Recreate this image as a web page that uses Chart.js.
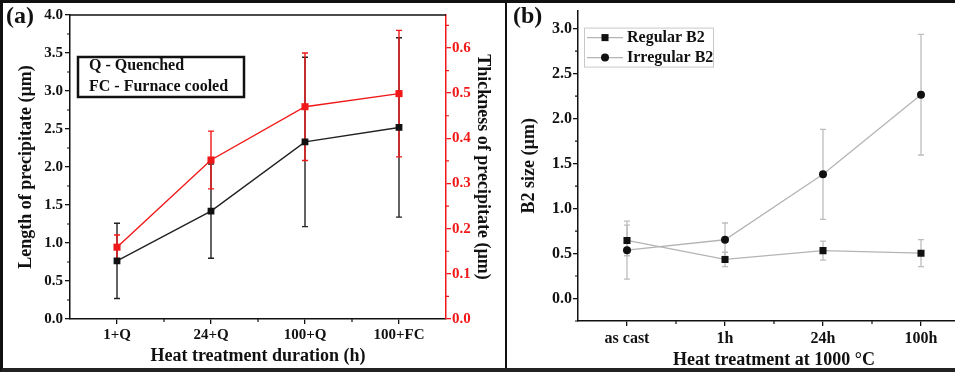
<!DOCTYPE html>
<html>
<head>
<meta charset="utf-8">
<script src="https://cdn.jsdelivr.net/npm/chart.js@4.4.1/dist/chart.umd.min.js"></script>
<style>
  html, body { margin: 0; padding: 0; background: #fff; overflow: hidden; }
  #wrap { position: relative; width: 955px; height: 372px; overflow: hidden; }
  .panel { position: absolute; top: 0; }
  #sep { position: absolute; left: 505px; top: 0; width: 2px; height: 372px; background: #111; }
  #frame { position: absolute; left: 0; top: 0; width: 955px; height: 372px; box-sizing: border-box;
           border-left: 3px solid #111; border-top: 3px solid #111; border-bottom: 4px solid #222; pointer-events: none; }
</style>
</head>
<body>
<div id="wrap">
  <canvas id="chartA" class="panel" width="506" height="372" style="left:0"></canvas>
  <canvas id="chartB" class="panel" width="470" height="372" style="left:506px"></canvas>
  <div id="sep"></div>
  <div id="frame"></div>
</div>
<script>
// panel (a)
const durations = ['1+Q', '24+Q', '100+Q', '100+FC'];
const lengthVals = [0.765, 1.42, 2.33, 2.52];
const lengthErr = [0.495, 0.62, 1.115, 1.18];
const thickVals = [0.159, 0.352, 0.470, 0.499];
const thickErr = [0.027, 0.064, 0.119, 0.14];

// panel (b)
const stages = ['as cast', '1h', '24h', '100h'];
const regularB2 = [0.645, 0.434, 0.532, 0.504];
const regularErr = [0.17, 0.08, 0.105, 0.15];
const irregularB2 = [0.537, 0.653, 1.38, 2.265];
const irregularErr = [0.322, 0.186, 0.5, 0.67];

const SERIF = "'Liberation Serif', 'Times New Roman', serif";
const RED = '#f01818';
const INK = '#111';

// error bars from the dataset's own scale
const errorBars = {
  id: 'errorBars',
  beforeDatasetsDraw(chart) {
    const ctx = chart.ctx;
    chart.data.datasets.forEach((ds, i) => {
      if (!ds.errors) return;
      const meta = chart.getDatasetMeta(i);
      const scale = chart.scales[meta.yAxisID];
      ctx.save();
      ctx.strokeStyle = ds.errorColor;
      ctx.lineWidth = ds.errorWidth;
      ctx.beginPath();
      meta.data.forEach((pt, j) => {
        const yTop = scale.getPixelForValue(ds.data[j] + ds.errors[j]);
        const yBot = scale.getPixelForValue(ds.data[j] - ds.errors[j]);
        ctx.moveTo(pt.x, yTop); ctx.lineTo(pt.x, yBot);
        ctx.moveTo(pt.x - 3, yTop); ctx.lineTo(pt.x + 3, yTop);
        ctx.moveTo(pt.x - 3, yBot); ctx.lineTo(pt.x + 3, yBot);
      });
      ctx.stroke();
      ctx.restore();
    });
  }
};

// small ticks half way between the major ones
const minorTicks = {
  id: 'minorTicks',
  afterDraw(chart) {
    const ctx = chart.ctx;
    Object.values(chart.scales).forEach(scale => {
      ctx.save();
      ctx.strokeStyle = scale.options.border.color;
      ctx.lineWidth = 1.2;
      ctx.beginPath();
      if (scale.axis === 'x') {
        for (let i = 0; i < scale.ticks.length - 1; i++) {
          const px = (scale.getPixelForTick(i) + scale.getPixelForTick(i + 1)) / 2;
          ctx.moveTo(px, scale.top); ctx.lineTo(px, scale.top + 3);
        }
      } else {
        const vals = scale.ticks.map(t => t.value);
        const step = vals[1] - vals[0];
        const left = scale.position === 'left';
        const x0 = left ? scale.right : scale.left;
        for (let v = vals[0] - step / 2; v <= scale.max + 1e-9; v += step) {
          if (v < scale.min) continue;
          const py = scale.getPixelForValue(v);
          ctx.moveTo(x0, py); ctx.lineTo(x0 + (left ? -3 : 3), py);
        }
      }
      ctx.stroke();
      ctx.restore();
    });
  }
};

const decorA = {
  id: 'decorA',
  afterDraw(chart) {
    const { ctx, chartArea } = chart;
    ctx.save();
    // top frame line
    ctx.strokeStyle = INK; ctx.lineWidth = 1.5;
    ctx.beginPath(); ctx.moveTo(chartArea.left, chartArea.top); ctx.lineTo(chartArea.right, chartArea.top); ctx.stroke();
    // note box
    const bx = chartArea.left + 8, by = chartArea.top + 42;
    ctx.lineWidth = 2.5;
    ctx.strokeRect(bx, by, 166, 40);
    ctx.fillStyle = INK;
    ctx.font = 'bold 16px ' + SERIF;
    ctx.textBaseline = 'middle';
    ctx.fillText('Q - Quenched', bx + 11, by + 9);
    ctx.fillText('FC - Furnace cooled', bx + 11, by + 30);
    // panel label
    ctx.font = 'bold 24px ' + SERIF;
    ctx.fillText('(a)', 6, 17);
    ctx.restore();
  }
};

const decorB = {
  id: 'decorB',
  afterDraw(chart) {
    const { ctx, chartArea } = chart;
    ctx.save();
    const bx = chartArea.left + 6, by = chartArea.top + 17;
    ctx.strokeStyle = '#c8c8c8'; ctx.lineWidth = 1;
    ctx.strokeRect(bx + 0.5, by + 0.5, 129, 39);
    ctx.font = 'bold 16px ' + SERIF;
    ctx.textBaseline = 'middle';
    chart.data.datasets.forEach((ds, i) => {
      const cy = by + 10 + i * 20;
      ctx.strokeStyle = ds.borderColor; ctx.lineWidth = ds.borderWidth;
      ctx.beginPath(); ctx.moveTo(bx + 3, cy); ctx.lineTo(bx + 39, cy); ctx.stroke();
      ctx.fillStyle = ds.pointBackgroundColor;
      ctx.beginPath();
      if (ds.pointStyle === 'rect') {
        const h = ds.pointRadius * Math.SQRT1_2;
        ctx.rect(bx + 21 - h, cy - h, 2 * h, 2 * h);
      } else {
        ctx.arc(bx + 21, cy, ds.pointRadius, 0, Math.PI * 2);
      }
      ctx.fill();
      ctx.fillStyle = INK;
      ctx.fillText(ds.label, bx + 43, cy);
    });
    ctx.font = 'bold 24px ' + SERIF;
    ctx.fillText('(b)', 7, 17);
    ctx.restore();
  }
};

const tickFont = size => ({ family: SERIF, size: size, weight: 'bold' });

// ---- panel (a)
new Chart(document.getElementById('chartA'), {
  type: 'line',
  data: {
    labels: durations,
    datasets: [
      {
        label: 'Length', data: lengthVals, errors: lengthErr, errorColor: '#222', errorWidth: 1.4,
        yAxisID: 'y', borderColor: '#222', borderWidth: 1.4,
        pointStyle: 'rect', pointRadius: 4.8, pointBackgroundColor: INK, pointBorderWidth: 0
      },
      {
        label: 'Thickness', data: thickVals, errors: thickErr, errorColor: RED, errorWidth: 1.4,
        yAxisID: 'y1', borderColor: RED, borderWidth: 1.4,
        pointStyle: 'rect', pointRadius: 5, pointBackgroundColor: RED, pointBorderWidth: 0
      }
    ]
  },
  options: {
    responsive: false,
    animation: false,
    layout: { padding: { top: 15, left: 0, right: 0, bottom: 0 } },
    plugins: { legend: { display: false }, tooltip: { enabled: false } },
    scales: {
      x: {
        offset: true,
        grid: { drawOnChartArea: false, tickLength: 5, color: INK, lineWidth: 1.3 },
        border: { color: INK, width: 1.5 },
        ticks: { color: INK, font: tickFont(15), padding: 2, maxRotation: 0 },
        title: { display: true, text: 'Heat treatment duration (h)', color: INK, font: tickFont(18), padding: { top: 0, bottom: 5 } },
        afterFit: s => { s.height = 53; }
      },
      y: {
        position: 'left', min: 0, max: 4,
        grid: { drawOnChartArea: false, tickLength: 5, color: INK, lineWidth: 1.3 },
        border: { color: INK, width: 1.5 },
        ticks: { stepSize: 0.5, color: INK, font: tickFont(15), padding: 2, callback: v => v.toFixed(1) },
        title: { display: true, text: 'Length of precipitate (µm)', color: INK, font: tickFont(18), padding: { top: 16, bottom: 0 } },
        afterFit: s => { s.width = 70; }
      },
      y1: {
        position: 'right', min: 0, max: 0.673,
        grid: { drawOnChartArea: false, tickLength: 5, color: RED, lineWidth: 1.3 },
        border: { color: RED, width: 1.5 },
        ticks: { stepSize: 0.1, includeBounds: false, color: RED, font: tickFont(15), padding: 1, callback: v => v.toFixed(1) },
        title: { display: true, text: 'Thickness of precipitate (µm)', color: INK, font: tickFont(18), padding: { top: 13, bottom: 0 } },
        afterFit: s => { s.width = 60; }
      }
    }
  },
  plugins: [errorBars, minorTicks, decorA]
});

// ---- panel (b)
new Chart(document.getElementById('chartB'), {
  type: 'line',
  data: {
    labels: stages,
    datasets: [
      {
        label: 'Regular B2', data: regularB2, errors: regularErr, errorColor: '#bdbdbd', errorWidth: 1.3,
        borderColor: '#b4b4b4', borderWidth: 1.3,
        pointStyle: 'rect', pointRadius: 5, pointBackgroundColor: INK, pointBorderWidth: 0
      },
      {
        label: 'Irregular B2', data: irregularB2, errors: irregularErr, errorColor: '#bdbdbd', errorWidth: 1.3,
        borderColor: '#b4b4b4', borderWidth: 1.3,
        pointStyle: 'circle', pointRadius: 4, pointBackgroundColor: INK, pointBorderWidth: 0
      }
    ]
  },
  options: {
    responsive: false,
    animation: false,
    layout: { padding: { top: 6, left: 0, right: 6, bottom: 0 } },
    plugins: { legend: { display: false }, tooltip: { enabled: false } },
    scales: {
      x: {
        offset: true,
        grid: { drawOnChartArea: false, tickLength: 5, color: INK, lineWidth: 1.3 },
        border: { color: INK, width: 1.5 },
        ticks: { color: INK, font: tickFont(16), padding: 3, maxRotation: 0 },
        title: { display: true, text: 'Heat treatment at 1000 °C', color: INK, font: tickFont(18), padding: { top: 0, bottom: 1 } },
        afterFit: s => { s.height = 51; }
      },
      y: {
        position: 'left', min: -0.25, max: 3.2,
        grid: { drawOnChartArea: false, tickLength: 5, color: INK, lineWidth: 1.3 },
        border: { color: INK, width: 1.5 },
        ticks: { stepSize: 0.5, includeBounds: false, color: INK, font: tickFont(16), padding: 1, callback: v => v.toFixed(1) },
        title: { display: true, text: 'B2 size (µm)', color: INK, font: tickFont(18), padding: { top: 13, bottom: 0 } },
        afterFit: s => { s.width = 72; }
      }
    }
  },
  plugins: [errorBars, minorTicks, decorB]
});
</script>
</body>
</html>
